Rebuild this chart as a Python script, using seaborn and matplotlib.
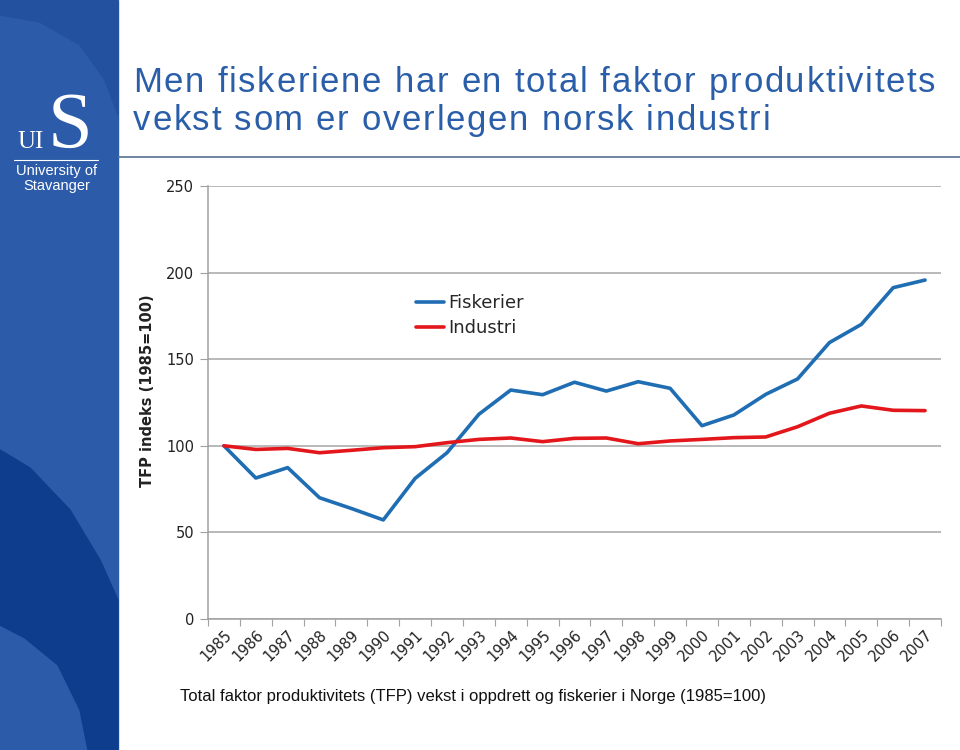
import pandas as pd
import seaborn as sns
import matplotlib.pyplot as plt
from matplotlib.patches import Rectangle, Polygon
from matplotlib.lines import Line2D
from matplotlib.font_manager import FontProperties

# -----------------------------
# Data
# -----------------------------
years = list(range(1985, 2008))

fiskerier = [100, 81.4, 87.4, 70, 63.8, 57.2, 81.2, 96, 118.2, 132.2, 129.5,
             136.7, 131.6, 137, 133.2, 111.6, 117.8, 129.7, 138.6, 159.6,
             170.1, 191.3, 195.7]

industri = [100, 97.9, 98.5, 96, 97.4, 98.9, 99.5, 101.8, 103.7, 104.5, 102.4,
            104.3, 104.5, 101.2, 102.8, 103.7, 104.7, 105.1, 111, 118.8,
            123, 120.5, 120.3]

series_names = ["Fiskerier", "Industri"]
y_ticks = [0, 50, 100, 150, 200, 250]

title_lines = ["Men fiskeriene har en total faktor produktivitets",
               "vekst som er overlegen norsk industri"]
ylabel_text = "TFP indeks (1985=100)"
caption_text = "Total faktor produktivitets (TFP) vekst i oppdrett og fiskerier i Norge (1985=100)"

df = pd.DataFrame({
    "Year": years * 2,
    "Value": fiskerier + industri,
    "Series": [series_names[0]] * len(years) + [series_names[1]] * len(years),
})

# -----------------------------
# Figure
# -----------------------------
sns.set_style("white")
plt.rcParams["font.family"] = ["Liberation Sans", "DejaVu Sans"]

fig = plt.figure(figsize=(9.6, 7.5), dpi=100)
W, H = 960, 750
renderer = fig.canvas.get_renderer()


def tracked_text(x_px, y_px, s, size, tracking, **kw):
    # letter-spaced text, one glyph at a time
    prop = FontProperties(family="Liberation Sans", size=size)

    def width(t):
        return renderer.get_text_width_height_descent(t, prop, ismath=False)[0]

    bar = width("||")
    x = x_px
    for ch in s:
        if ch != " ":
            fig.text(x / W, 1 - y_px / H, ch, fontproperties=prop,
                     va="baseline", ha="left", **kw)
        x += width("|" + ch + "|") - bar + tracking


# side bar
fig.patches.append(Rectangle((0, 0), 118 / W, 1, transform=fig.transFigure,
                             color="#2C5BA9", zorder=0))
top_dark = [(0, 1 - 15 / H), (40 / W, 1 - 22 / H), (80 / W, 1 - 45 / H),
            (105 / W, 1 - 80 / H), (118 / W, 1 - 115 / H), (118 / W, 1), (0, 1)]
fig.patches.append(Polygon(top_dark, closed=True, transform=fig.transFigure,
                           color="#24519F", zorder=0.5))
band = [(0, 1 - 450 / H), (30 / W, 1 - 468 / H), (70 / W, 1 - 510 / H),
        (100 / W, 1 - 560 / H), (118 / W, 1 - 600 / H), (118 / W, 0),
        (88 / W, 0), (80 / W, 1 - 710 / H), (58 / W, 1 - 665 / H),
        (25 / W, 1 - 638 / H), (0, 1 - 625 / H)]
fig.patches.append(Polygon(band, closed=True, transform=fig.transFigure,
                           color="#0E3D8E", zorder=0.5))

# logo
fig.text(70 / W, 1 - 148 / H, "S", color="white", fontsize=58,
         family="Liberation Serif", ha="center", va="baseline")
fig.text(31 / W, 1 - 148 / H, "UI", color="white", fontsize=18,
         family="Liberation Serif", ha="center", va="baseline")
fig.lines.append(Line2D([14 / W, 98 / W], [1 - 160 / H, 1 - 160 / H],
                        transform=fig.transFigure, color="white", lw=0.8))
fig.text(57 / W, 1 - 171 / H, "University of", color="white", fontsize=10.5,
         ha="center", va="center")
fig.text(57 / W, 1 - 186 / H, "Stavanger", color="white", fontsize=10.5,
         ha="center", va="center")

# title and rule
tracked_text(133, 92.5, title_lines[0], 25, 1.7, color="#2B5EA9")
tracked_text(133, 130, title_lines[1], 25, 1.7, color="#2B5EA9")
fig.lines.append(Line2D([118 / W, 1], [1 - 157 / H, 1 - 157 / H],
                        transform=fig.transFigure, color="#56708F", lw=1.2))

# -----------------------------
# Line chart
# -----------------------------
ax = fig.add_axes([208 / W, 1 - 619 / H, (941 - 208) / W, (619 - 186) / H])

sns.lineplot(
    data=df,
    x="Year",
    y="Value",
    hue="Series",
    palette={"Fiskerier": "#1F6DB3", "Industri": "#E3171B"},
    linewidth=2.6,
    ax=ax
)

ax.set_ylim(0, 250)
ax.set_xlim(years[0] - 0.5, years[-1] + 0.5)
ax.set_yticks(y_ticks)
ax.set_yticklabels([str(t) for t in y_ticks], fontsize=10.5,
                   family="DejaVu Sans", color="#222222")
ax.yaxis.grid(True, color="#A6A6A6", lw=1.1)
ax.set_axisbelow(True)

# category axis: boundary ticks, labels centred
ax.set_xticks([y - 0.5 for y in years] + [years[-1] + 0.5])
ax.set_xticklabels([])
ax.set_xticks(years, minor=True)
ax.set_xticklabels([str(y) for y in years], minor=True, rotation=45,
                   ha="right", rotation_mode="anchor", fontsize=10.5,
                   family="DejaVu Sans", color="#222222")
ax.tick_params(axis="x", which="major", length=5, color="#A0A0A0",
               direction="out", bottom=True)
ax.tick_params(axis="x", which="minor", length=0, pad=6)
ax.tick_params(axis="y", length=6, color="#A0A0A0", direction="out",
               left=True, pad=4)

for side in ["top", "right"]:
    ax.spines[side].set_visible(False)
for side in ["left", "bottom"]:
    ax.spines[side].set_color("#A0A0A0")
    ax.spines[side].set_linewidth(1.1)

ax.set_xlabel("")
ax.set_ylabel(ylabel_text, fontsize=10.5, fontweight="bold",
              family="DejaVu Sans", color="#222222")
ax.yaxis.set_label_coords(-0.072, 0.527)

leg = ax.legend(loc="upper left", bbox_to_anchor=(0.262, 0.788), frameon=False,
                prop=FontProperties(family="DejaVu Sans", size=13),
                handlelength=1.55, handletextpad=0.22, labelspacing=0.4)
for line in leg.get_lines():
    line.set_linewidth(2.6)

fig.text(180 / W, 1 - 697 / H, caption_text, fontsize=12, ha="left",
         va="center", color="#111111")

fig.savefig("out.png", dpi=100)
